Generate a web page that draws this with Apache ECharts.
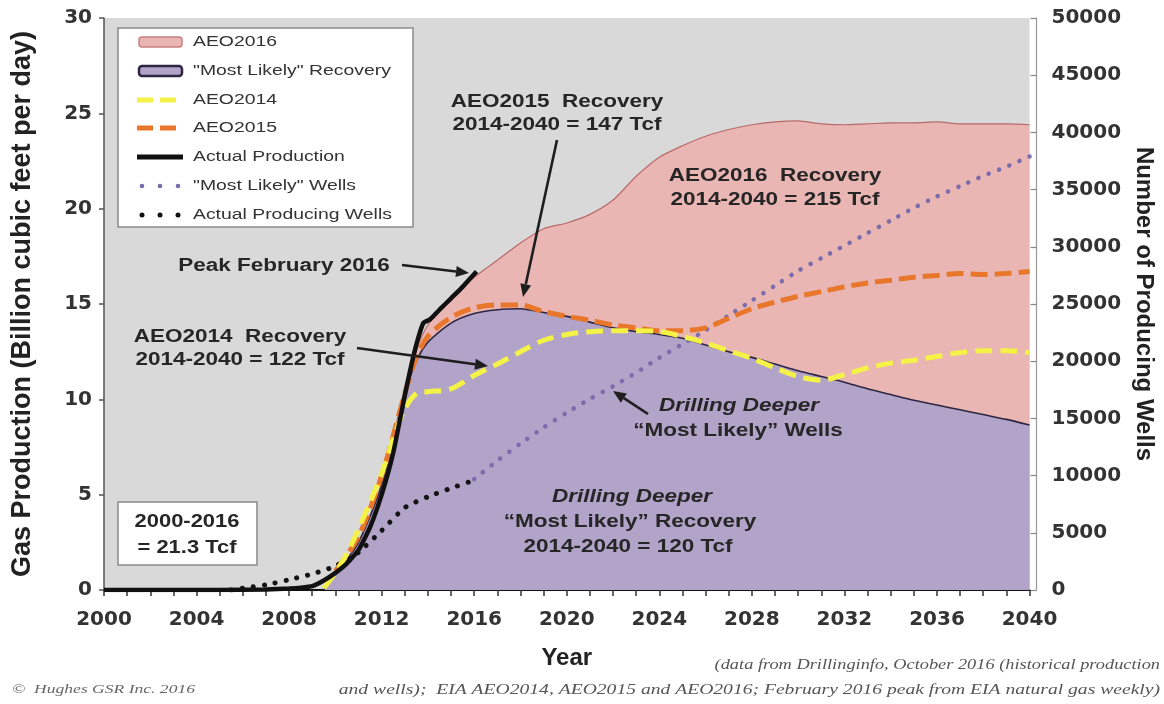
<!DOCTYPE html>
<html><head><meta charset="utf-8">
<script src="https://cdn.jsdelivr.net/npm/echarts@6/dist/echarts.min.js"></script>
<style>html,body{margin:0;padding:0;background:#fff}#c{width:1164px;height:704px}</style>
</head><body><div id="c"></div>
<script>
// ---------- data ----------
const xLabelYears = [2000, 2004, 2008, 2012, 2016, 2020, 2024, 2028, 2032, 2036, 2040];
const yLeftTicks = [0, 5, 10, 15, 20, 25, 30];
const yRightTicks = [0, 5000, 10000, 15000, 20000, 25000, 30000, 35000, 40000, 45000, 50000];

const aeo2016Years = [2009.5, 2010, 2011, 2012, 2013, 2013.5, 2014, 2015, 2016, 2017, 2018, 2019, 2020, 2021, 2022, 2023, 2024, 2025, 2026, 2027, 2028, 2029, 2030, 2031, 2032, 2033, 2034, 2035, 2036, 2037, 2038, 2039, 2040];
const aeo2016Values = [0, 0.8, 2.5, 5.6, 10.6, 12.6, 13.9, 15.3, 16.4, 17.3, 18.2, 18.95, 19.25, 19.7, 20.45, 21.7, 22.7, 23.3, 23.8, 24.15, 24.4, 24.55, 24.6, 24.45, 24.4, 24.45, 24.5, 24.5, 24.55, 24.45, 24.45, 24.45, 24.4];

const recoveryYears = [2009.5, 2010, 2011, 2012, 2013, 2013.5, 2014, 2015, 2016, 2017, 2018, 2019, 2020, 2021, 2022, 2023, 2024, 2025, 2026, 2027, 2028, 2029, 2030, 2031, 2032, 2033, 2034, 2035, 2036, 2037, 2038, 2039, 2040];
const recoveryValues = [0, 0.8, 2.5, 5.5, 10.3, 12.0, 13.0, 14.0, 14.5, 14.7, 14.75, 14.55, 14.35, 14.05, 13.75, 13.55, 13.4, 13.2, 12.85, 12.5, 12.2, 11.85, 11.5, 11.2, 10.9, 10.55, 10.25, 9.95, 9.7, 9.45, 9.2, 8.95, 8.65];

const aeo2014Years = [2009.5, 2010, 2010.5, 2011, 2011.5, 2012, 2012.5, 2013, 2013.5, 2014, 2015, 2016, 2017, 2018, 2019, 2020, 2021, 2022, 2023, 2024, 2025, 2026, 2027, 2028, 2029, 2030, 2031, 2032, 2033, 2034, 2035, 2036, 2037, 2038, 2039, 2040];
const aeo2014Values = [0.1, 0.9, 1.9, 3.2, 4.6, 6.1, 7.9, 9.5, 10.3, 10.4, 10.55, 11.25, 11.85, 12.5, 13.1, 13.4, 13.55, 13.6, 13.6, 13.55, 13.3, 12.95, 12.55, 12.15, 11.65, 11.2, 11.0, 11.3, 11.65, 11.9, 12.05, 12.25, 12.45, 12.55, 12.55, 12.45];

const aeo2015Years = [2010, 2011, 2012, 2013, 2013.5, 2014, 2015, 2016, 2017, 2018, 2019, 2020, 2021, 2022, 2023, 2024, 2025, 2026, 2027, 2028, 2029, 2030, 2031, 2032, 2033, 2034, 2035, 2036, 2037, 2038, 2039, 2040];
const aeo2015Values = [1.0, 2.8, 6.0, 10.3, 12.2, 13.3, 14.3, 14.8, 14.95, 14.95, 14.6, 14.35, 14.15, 13.9, 13.75, 13.6, 13.6, 13.75, 14.25, 14.75, 15.1, 15.4, 15.65, 15.9, 16.1, 16.25, 16.4, 16.5, 16.6, 16.55, 16.6, 16.7];

const productionYears = [2000, 2005, 2007, 2008, 2008.5, 2009, 2009.5, 2010, 2010.5, 2011, 2011.5, 2012, 2012.5, 2013, 2013.4, 2013.8, 2014.1, 2014.5, 2015, 2015.5, 2016.1];
const productionValues = [0, 0, 0.03, 0.08, 0.12, 0.2, 0.5, 0.9, 1.4, 2.1, 3.3, 5.0, 7.2, 10.2, 12.4, 14.0, 14.2, 14.7, 15.3, 15.9, 16.7];

const likelyWellYears = [2016, 2017, 2018, 2019, 2020, 2021, 2022, 2023, 2024, 2025, 2026, 2027, 2028, 2029, 2030, 2031, 2032, 2033, 2034, 2035, 2036, 2037, 2038, 2039, 2040];
const likelyWellValues = [9700, 11300, 12800, 14200, 15500, 16700, 17800, 19000, 20300, 21500, 22700, 24000, 25300, 26600, 27900, 29000, 30100, 31200, 32300, 33400, 34400, 35300, 36200, 37000, 37900];

const actualWellYears = [2005.5, 2006, 2007, 2008, 2009, 2010, 2011, 2012, 2013, 2014, 2015, 2016];
const actualWellValues = [0, 150, 450, 900, 1400, 2100, 3300, 5200, 7200, 8150, 8900, 9600];

// ---------- styles ----------
const C = {
  bg: '#d9d9d9', pink: '#e9b6b4', pinkLine: '#b86a6a', purple: '#b2a3c9', purpleLine: '#2e2642',
  yellow: '#f4f246', orange: '#e8772c', black: '#111111', wellPurple: '#7b6cab', text: '#262626'
};
const pairs = (xs, ys) => xs.map((x, i) => [x, ys[i]]);

const annFont = 'bold 18px "Liberation Sans", Arial, sans-serif';
const annFontIt = 'italic bold 18px "Liberation Sans", Arial, sans-serif';
function label(x, y, text, font, sx, align, color) {
  return { type: 'text', x: x, y: y, scaleX: sx || 1.25, z: 100,
    style: { text: text, x: 0, y: 0, font: font || annFont, fill: color || C.text,
      textAlign: align || 'center', textVerticalAlign: 'middle', align: align || 'center', verticalAlign: 'middle' } };
}
function arrow(x1, y1, x2, y2) {
  const dx = x2 - x1, dy = y2 - y1, L = Math.hypot(dx, dy), ux = dx / L, uy = dy / L;
  const hl = 13, hw = 5.5, bx = x2 - ux * hl, by = y2 - uy * hl, px = -uy, py = ux;
  return [
    { type: 'line', z: 100, shape: { x1: x1, y1: y1, x2: bx, y2: by }, style: { stroke: '#1e1e1e', lineWidth: 2.6 } },
    { type: 'polygon', z: 100, shape: { points: [[x2, y2], [bx + px * hw, by + py * hw], [bx - px * hw, by - py * hw]] }, style: { fill: '#1e1e1e' } }
  ];
}

const legFont = '15.5px "Liberation Sans", Arial, sans-serif';
const legendRows = [42, 71, 100, 128, 157, 186, 215];
const legendNames = ['AEO2016', '"Most Likely" Recovery', 'AEO2014', 'AEO2015', 'Actual Production', '"Most Likely" Wells', 'Actual Producing Wells'];
const legendEls = [
  { type: 'rect', z: 90, shape: { x: 118, y: 28, width: 295, height: 199 }, style: { fill: '#ffffff', stroke: '#8a8a8a', lineWidth: 1.5 } },
  { type: 'rect', z: 91, shape: { x: 139, y: legendRows[0] - 5, width: 43, height: 10, r: 3 }, style: { fill: C.pink, stroke: '#c98080', lineWidth: 1.5 } },
  { type: 'rect', z: 91, shape: { x: 139, y: legendRows[1] - 5, width: 43, height: 10, r: 3 }, style: { fill: C.purple, stroke: '#2e2642', lineWidth: 2.5 } },
  { type: 'line', z: 91, shape: { x1: 137, y1: legendRows[2], x2: 183, y2: legendRows[2] }, style: { stroke: C.yellow, lineWidth: 5, lineDash: [16, 7] } },
  { type: 'line', z: 91, shape: { x1: 137, y1: legendRows[3], x2: 183, y2: legendRows[3] }, style: { stroke: C.orange, lineWidth: 5, lineDash: [16, 7] } },
  { type: 'line', z: 91, shape: { x1: 137, y1: legendRows[4], x2: 183, y2: legendRows[4] }, style: { stroke: C.black, lineWidth: 5 } }
];
[142, 160, 178].forEach(cx => {
  legendEls.push({ type: 'circle', z: 91, shape: { cx: cx, cy: legendRows[5], r: 2.3 }, style: { fill: C.wellPurple } });
  legendEls.push({ type: 'circle', z: 91, shape: { cx: cx, cy: legendRows[6], r: 2.5 }, style: { fill: '#111' } });
});
legendNames.forEach((n, i) => legendEls.push(label(193, legendRows[i], n, legFont, 1.25, 'left', '#333')));

const footFont = 'italic 14px "Liberation Serif", "Times New Roman", serif';
const graphics = [].concat(
  legendEls,
  [label(557, 102, 'AEO2015  Recovery'), label(557, 125, '2014-2040 = 147 Tcf')],
  arrow(557, 140, 523, 297),
  [label(775, 176, 'AEO2016  Recovery'), label(775, 200, '2014-2040 = 215 Tcf')],
  [label(284, 266, 'Peak February 2016')],
  arrow(402, 265, 469, 273),
  [label(240, 337, 'AEO2014  Recovery'), label(240, 360, '2014-2040 = 122 Tcf')],
  arrow(357, 348, 488, 366),
  [label(739, 406, 'Drilling Deeper', annFontIt), label(738, 431, '\u201cMost Likely\u201d Wells')],
  arrow(648, 414, 613, 391),
  [label(632, 497, 'Drilling Deeper', annFontIt), label(630, 522, '\u201cMost Likely\u201d Recovery'), label(628, 547, '2014-2040 = 120 Tcf')],
  [{ type: 'rect', z: 95, shape: { x: 118, y: 502, width: 139, height: 63 }, style: { fill: '#ffffff', stroke: '#8a8a8a', lineWidth: 1.5 } },
   label(187, 522, '2000-2016', annFont, 1.22), label(187, 548, '= 21.3 Tcf', annFont, 1.22)],
  [label(1160, 665, '(data from Drillinginfo, October 2016 (historical production', footFont, 1.31, 'right', '#555'),
   label(1160, 690, 'and wells);  EIA AEO2014, AEO2015 and AEO2016; February 2016 peak from EIA natural gas weekly)', footFont, 1.4, 'right', '#555'),
   label(12, 690, '\u00a9  Hughes GSR Inc. 2016', 'italic 13px "Liberation Serif", "Times New Roman", serif', 1.35, 'left', '#666')]
);

const tickFont = { fontFamily: 'DejaVu Sans', fontWeight: 'bold', fontSize: 20, color: '#333' };

const option = {
  animation: false,
  backgroundColor: '#ffffff',
  grid: { left: 104, right: 134, top: 18, bottom: 114, show: true, backgroundColor: C.bg, borderWidth: 0 },
  xAxis: {
    type: 'value', min: 2000, max: 2040, interval: 1,
    name: 'Year', nameLocation: 'middle', nameGap: 56,
    nameTextStyle: { fontFamily: 'Liberation Sans', fontWeight: 'bold', fontSize: 24, color: '#222' },
    axisLine: { lineStyle: { color: '#111', width: 2 } },
    axisTick: { length: 6, lineStyle: { color: '#333', width: 1.5 } },
    axisLabel: Object.assign({ margin: 20, formatter: v => xLabelYears.indexOf(Math.round(v)) >= 0 ? String(Math.round(v)) : '' }, tickFont),
    splitLine: { show: false }
  },
  yAxis: [
    {
      type: 'value', min: yLeftTicks[0], max: yLeftTicks[yLeftTicks.length - 1], interval: 5, position: 'left',
      name: 'Gas Production (Billion cubic feet per day)', nameLocation: 'middle', nameGap: 68, nameRotate: 90,
      nameTextStyle: { fontFamily: 'Liberation Sans', fontWeight: 'bold', fontSize: 27, color: '#222' },
      axisLine: { show: true, lineStyle: { color: '#555', width: 1.5 } },
      axisTick: { show: true, length: 5, lineStyle: { color: '#555', width: 1.5 } },
      axisLabel: Object.assign({ margin: 12, formatter: v => String(Math.round(v)) }, tickFont),
      splitLine: { show: false }
    },
    {
      type: 'value', min: yRightTicks[0], max: yRightTicks[yRightTicks.length - 1], interval: 5000, position: 'right', offset: 7,
      name: 'Number of Producing Wells', nameLocation: 'middle', nameGap: 94, nameRotate: -90,
      nameTextStyle: { fontFamily: 'Liberation Sans', fontWeight: 'bold', fontSize: 24, color: '#222' },
      axisLine: { show: true, lineStyle: { color: '#999', width: 1.2 } },
      axisTick: { show: true, inside: true, length: 6, lineStyle: { color: '#888', width: 1.2 } },
      axisLabel: Object.assign({ margin: 15, formatter: v => String(Math.round(v)) }, tickFont),
      splitLine: { show: false }
    }
  ],
  series: [
    { name: 'AEO2016', type: 'line', data: pairs(aeo2016Years, aeo2016Values), smooth: 0.25, symbol: 'none',
      lineStyle: { color: C.pinkLine, width: 1.2 }, areaStyle: { color: C.pink, opacity: 1 }, z: 1 },
    { name: '"Most Likely" Recovery', type: 'line', data: pairs(recoveryYears, recoveryValues), smooth: 0.25, symbol: 'none',
      lineStyle: { color: C.purpleLine, width: 1.6 }, areaStyle: { color: C.purple, opacity: 1 }, z: 2 },
    { name: '"Most Likely" Wells', type: 'line', yAxisIndex: 1, data: pairs(likelyWellYears, likelyWellValues), smooth: 0.2, symbol: 'none',
      lineStyle: { color: C.wellPurple, width: 4.5, type: [0.1, 11], cap: 'round' }, z: 3 },
    { name: 'Actual Producing Wells', type: 'line', yAxisIndex: 1, data: pairs(actualWellYears, actualWellValues), smooth: 0.2, symbol: 'none',
      lineStyle: { color: '#141414', width: 5, type: [0.1, 11], cap: 'round' }, z: 4 },
    { name: 'AEO2015', type: 'line', data: pairs(aeo2015Years, aeo2015Values), smooth: 0.3, symbol: 'none',
      lineStyle: { color: C.orange, width: 5, type: [17, 7] }, z: 5 },
    { name: 'AEO2014', type: 'line', data: pairs(aeo2014Years, aeo2014Values), smooth: 0.3, symbol: 'none',
      lineStyle: { color: C.yellow, width: 5, type: [17, 8] }, z: 6 },
    { name: 'Actual Production', type: 'line', data: pairs(productionYears, productionValues), smooth: 0.15, symbol: 'none',
      lineStyle: { color: C.black, width: 4.5 }, z: 7 }
  ],
  graphic: graphics
};

const chart = echarts.init(document.getElementById('c'), null, { renderer: 'canvas' });
chart.setOption(option);
</script>
</body></html>
